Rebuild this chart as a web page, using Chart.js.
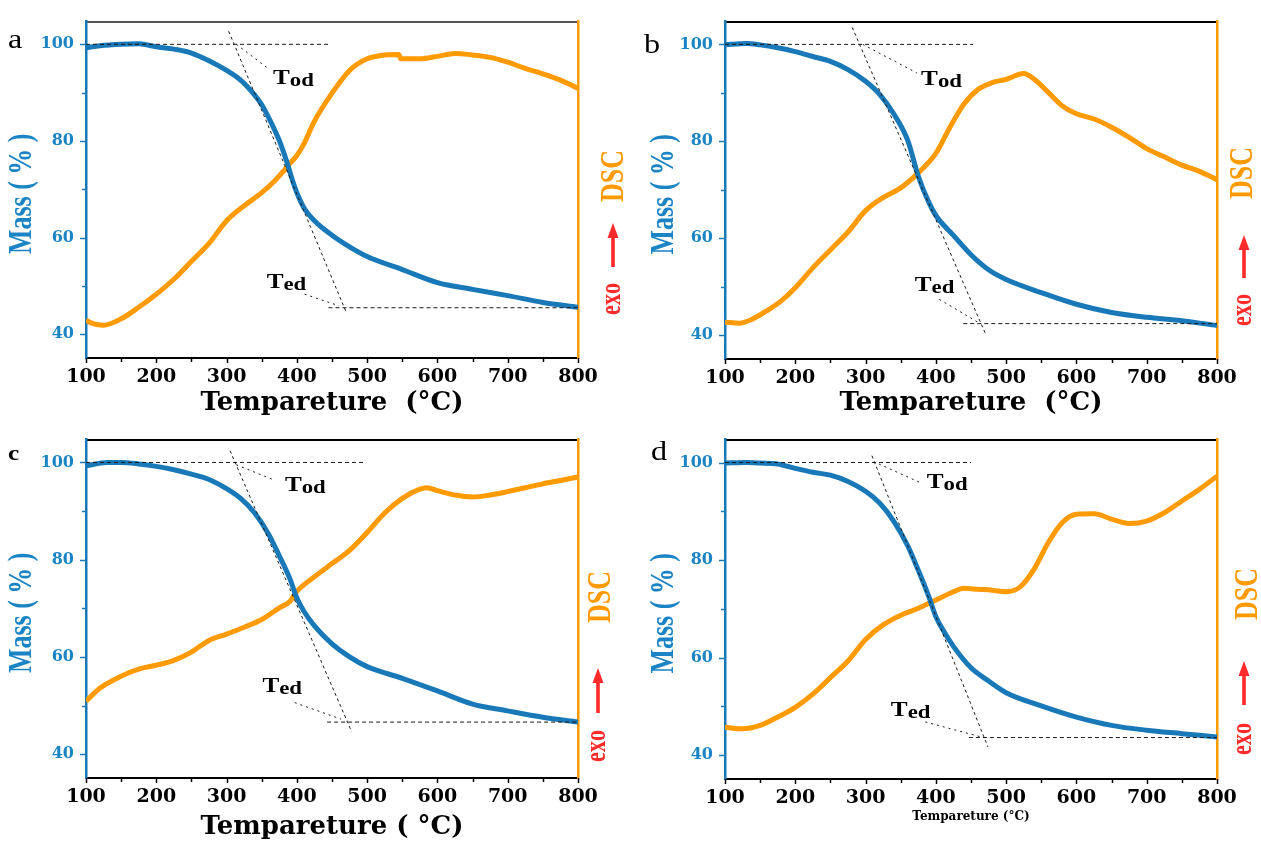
<!DOCTYPE html>
<html>
<head>
<meta charset="utf-8">
<script src="https://cdn.jsdelivr.net/npm/chart.js@4.4.0/dist/chart.umd.min.js"></script>
<style>
  body { margin: 0; background: #fff; }
  #wrap { position: relative; width: 1261px; height: 843px; background: #fff; }
  #wrap canvas { position: absolute; }
</style>
</head>
<body>
<div id="wrap">
  <canvas id="chartA" width="630" height="425" style="left:0;top:0"></canvas>
  <canvas id="chartB" width="622" height="425" style="left:639px;top:0"></canvas>
  <canvas id="chartC" width="630" height="425" style="left:0;top:418px"></canvas>
  <canvas id="chartD" width="622" height="425" style="left:639px;top:418px"></canvas>
</div>
<script>
// ---- data (temperature in °C, mass in %, DSC in arbitrary units on same visual scale) ----
const xTickValues = [100, 150, 200, 250, 300, 350, 400, 450, 500, 550, 600, 650, 700, 750, 800];
const xLabelValues = [100, 200, 300, 400, 500, 600, 700, 800];
const yTickValues = [40, 50, 60, 70, 80, 90, 100];
const yLabelValues = [40, 60, 80, 100];

// panel a
const massTempA = [100, 120, 150, 175, 200, 225, 250, 275, 300, 320, 340, 350, 360, 375, 385, 395, 400, 410, 425, 450, 475, 500, 550, 600, 650, 700, 750, 800];
const massA = [99.3, 99.7, 100, 100.1, 99.5, 99, 98.2, 96.6, 94.6, 92.6, 89.5, 87.5, 84.8, 80.1, 76, 71.3, 69.3, 66.2, 63.5, 60.5, 58.1, 56.1, 53.4, 50.7, 49.3, 48, 46.6, 45.6];
const dscTempA = [100, 110, 125, 150, 175, 200, 225, 250, 275, 300, 325, 350, 370, 390, 400, 410, 425, 450, 475, 500, 525, 545, 548, 575, 600, 625, 650, 675, 700, 725, 750, 775, 800];
const dscA = [42.9, 42.2, 41.9, 43.2, 45.6, 48.3, 51.4, 55.1, 58.8, 63.5, 66.6, 69.3, 72, 75.3, 77, 79.4, 84.1, 89.9, 94.6, 97, 97.8, 97.9, 97, 97, 97.5, 98.1, 97.8, 97.3, 96.3, 95, 93.9, 92.6, 90.9];

// panel b
const massTempB = [100, 130, 150, 175, 200, 225, 250, 275, 300, 320, 340, 360, 375, 390, 400, 425, 450, 475, 500, 550, 600, 650, 700, 750, 800];
const massB = [99.9, 100.2, 99.9, 99.3, 98.5, 97.5, 96.5, 94.8, 92.4, 89.7, 85.7, 80.2, 72.8, 67.4, 64.7, 60.6, 56.6, 53.5, 51.5, 48.8, 46.4, 44.7, 43.7, 43, 42];
const dscTempB = [100, 120, 140, 160, 180, 200, 225, 250, 275, 300, 325, 350, 375, 400, 420, 440, 460, 480, 500, 525, 540, 560, 580, 600, 625, 650, 675, 700, 725, 750, 775, 800];
const dscB = [42.7, 42.5, 43.4, 45.1, 47.1, 49.8, 53.9, 57.6, 61.3, 65.7, 68.4, 70.4, 73.5, 77.5, 82.9, 87.7, 90.7, 92.1, 92.8, 94, 92.8, 90.1, 87.3, 85.7, 84.6, 82.9, 80.8, 78.5, 76.8, 75.1, 73.8, 72.1];

// panel c
const massTempC = [100, 130, 150, 175, 200, 225, 250, 275, 300, 320, 340, 360, 375, 390, 400, 410, 425, 450, 475, 500, 550, 600, 650, 700, 750, 800];
const massC = [99.3, 100, 100, 99.7, 99.2, 98.5, 97.6, 96.5, 94.6, 92.6, 89.6, 85.2, 80.8, 76.1, 72.1, 69.4, 66.4, 62.7, 60, 58, 55.6, 53, 50.3, 48.9, 47.6, 46.6];
const dscTempC = [100, 120, 140, 160, 180, 200, 225, 250, 275, 300, 325, 350, 375, 390, 400, 425, 450, 475, 500, 525, 550, 575, 585, 600, 625, 650, 675, 700, 725, 750, 775, 800];
const dscC = [50.9, 53.6, 55.3, 56.7, 57.7, 58.3, 59.3, 61, 63.4, 64.7, 66.1, 67.7, 70.1, 71.4, 73.5, 76.5, 79.2, 81.9, 85.6, 89.6, 92.6, 94.5, 94.8, 94.2, 93.3, 92.9, 93.3, 94, 94.8, 95.6, 96.3, 97];

// panel d
const massTempD = [100, 130, 150, 175, 200, 225, 250, 275, 300, 320, 340, 360, 375, 390, 400, 410, 425, 450, 475, 500, 550, 600, 650, 700, 750, 800];
const massD = [99.9, 100, 99.9, 99.7, 98.8, 98, 97.4, 96.1, 94.1, 91.7, 88, 82.9, 77.9, 72.5, 68.4, 65.7, 62.3, 57.9, 55.2, 52.8, 50.1, 47.8, 46.1, 45.1, 44.4, 43.7];
const dscTempD = [100, 125, 150, 175, 200, 225, 250, 275, 300, 325, 350, 375, 400, 425, 440, 460, 480, 500, 520, 540, 560, 580, 600, 625, 650, 675, 700, 725, 750, 775, 800];
const dscD = [45.7, 45.4, 46.1, 47.8, 49.8, 52.5, 55.9, 59.3, 63.7, 66.7, 68.7, 70.1, 71.8, 73.5, 74.2, 74, 73.8, 73.5, 74.5, 78.2, 83.6, 87.7, 89.4, 89.5, 88.4, 87.5, 88, 89.7, 92.1, 94.5, 97.2];

// onset / endset construction lines [temp, mass]
const onsetA = [[100, 100], [445, 100]], tangentA = [[303, 102.7], [471, 44.3]], endsetA = [[445, 45.5], [800, 45.5]];
const todLeadA = [[314, 100], [360, 94.9]], tedLeadA = [[411, 48.3], [460, 45.9]];
const onsetB = [[100, 100], [453, 100]], tangentB = [[281, 103.5], [470, 40.5]], endsetB = [[439, 42.4], [800, 42.4]];
const todLeadB = [[296, 100], [373, 94.1]], tedLeadB = [[405, 47.4], [462, 42.5]];
const onsetC = [[100, 100], [497, 100]], tangentC = [[305, 102.4], [478, 44.6]], endsetC = [[443, 46.6], [800, 46.6]];
const todLeadC = [[314, 99.5], [369, 96.3]], tedLeadC = [[397, 50.6], [463, 47.2]];
const onsetD = [[100, 100], [450, 100]], tangentD = [[309, 101.4], [474, 41.7]], endsetD = [[447, 43.6], [800, 43.6]];
const todLeadD = [[319, 99.7], [379, 95.8]], tedLeadD = [[385, 46.8], [465, 43.7]];

// ---- style ----
const BLUE = '#1878b8';
const BLUE_TEXT = '#1b84c4';
const ORANGE = '#ff9a00';
const RED = '#ff2b2b';
const SERIF = '"DejaVu Serif", serif';
const TIMES = '"Liberation Serif", serif';

function toXY(xs, ys) {
    return xs.map((x, i) => ({ x: x, y: ys[i] }));
}
function pairs(arr) {
    return arr.map(p => ({ x: p[0], y: p[1] }));
}

// stretched text, like the original figure
function drawText(ctx, text, x, y, font, color, opts) {
    opts = opts || {};
    ctx.save();
    ctx.translate(x, y);
    ctx.scale(opts.sx || 1.2, 1);
    if (opts.rotate) ctx.rotate(opts.rotate);
    ctx.font = font;
    ctx.fillStyle = color;
    ctx.textAlign = opts.align || 'left';
    ctx.textBaseline = opts.baseline || 'alphabetic';
    ctx.fillText(text, 0, 0);
    ctx.restore();
}

function drawTLabel(ctx, x, y, sub) {
    ctx.save();
    ctx.translate(x, y);
    ctx.scale(1.2, 1);
    ctx.fillStyle = '#000';
    ctx.textBaseline = 'alphabetic';
    ctx.font = 'bold 21px ' + TIMES;
    ctx.fillText('T', 0, 0);
    const w = ctx.measureText('T').width;
    ctx.font = 'bold 19px ' + TIMES;
    ctx.fillText(sub, w, 2);
    ctx.restore();
}

const decorPlugin = {
    id: 'decor',
    afterDraw(chart) {
        const p = chart.config.options.plugins.decor;
        const ctx = chart.ctx;
        const xs = chart.scales.x, ys = chart.scales.y;
        const area = chart.chartArea;
        ctx.save();
        // tick marks (outward)
        ctx.lineWidth = 1.5;
        ctx.strokeStyle = '#000';
        xTickValues.forEach(v => {
            const px = Math.round(xs.getPixelForValue(v)) + 0.5;
            const len = v % 100 === 0 ? 5 : 4;
            ctx.beginPath();
            ctx.moveTo(px, area.bottom);
            ctx.lineTo(px, area.bottom + len);
            ctx.stroke();
        });
        ctx.strokeStyle = BLUE;
        yTickValues.forEach(v => {
            const py = Math.round(ys.getPixelForValue(v)) + 0.5;
            const len = v % 20 === 0 ? 6 : 4;
            ctx.beginPath();
            ctx.moveTo(area.left, py);
            ctx.lineTo(area.left - len, py);
            ctx.stroke();
        });
        ctx.restore();

        // y axis title
        drawText(ctx, 'Mass ( % )', p.yTitleX, (area.top + area.bottom) / 2 + 4, 'bold 26px ' + TIMES, BLUE_TEXT,
            { sx: 1.3, rotate: -Math.PI / 2, align: 'center', baseline: 'middle' });

        // panel letter
        drawText(ctx, p.letter, p.letterPos[0], p.letterPos[1], p.letterFont, '#000', { sx: 1.15 });

        // Tod / Ted labels
        drawTLabel(ctx, xs.getPixelForValue(p.todAt[0]), ys.getPixelForValue(p.todAt[1]) + 2, 'od');
        drawTLabel(ctx, xs.getPixelForValue(p.tedAt[0]), ys.getPixelForValue(p.tedAt[1]) + 2, 'ed');

        // DSC, exo arrow
        drawText(ctx, 'DSC', p.dscPos[0], p.dscPos[1], 'bold 26px ' + TIMES, ORANGE,
            { sx: 1.3, rotate: -Math.PI / 2, align: 'center', baseline: 'middle' });
        const ax = p.arrow[0], top = p.arrow[1], bot = p.arrow[2];
        ctx.save();
        ctx.fillStyle = RED;
        ctx.fillRect(ax - 1.8, top + 12, 3.6, bot - top - 12);
        ctx.beginPath();
        ctx.moveTo(ax, top);
        ctx.lineTo(ax - 5.5, top + 15);
        ctx.lineTo(ax + 5.5, top + 15);
        ctx.closePath();
        ctx.fill();
        ctx.restore();
        drawText(ctx, 'exo', p.exoPos[0], p.exoPos[1], 'bold 22px ' + TIMES, RED,
            { sx: 1.3, rotate: -Math.PI / 2, align: 'center', baseline: 'middle' });
    }
};

function makePanel(id, d) {
    const canvas = document.getElementById(id);
    const W = canvas.width, H = canvas.height;
    const plotLeft = 86, plotRight = 578, plotTop = 15, plotBottom = d.bottom;
    const dashLine = (pts, dash) => ({
        data: pairs(pts), borderColor: '#1a1a1a', borderWidth: 1, borderDash: dash,
        pointRadius: 0, fill: false, tension: 0, xAxisID: 'x', yAxisID: 'y'
    });
    return new Chart(canvas.getContext('2d'), {
        type: 'line',
        data: {
            datasets: [
                dashLine(d.onset, [4, 3]),
                dashLine(d.tangent, [3, 3]),
                dashLine(d.endset, [4, 3]),
                dashLine(d.todLead, [2, 4]),
                dashLine(d.tedLead, [2, 4]),
                {
                    label: 'Mass', data: toXY(d.massT, d.mass), borderColor: BLUE, borderWidth: 5,
                    pointRadius: 0, cubicInterpolationMode: 'monotone', xAxisID: 'x', yAxisID: 'y'
                },
                {
                    label: 'DSC', data: toXY(d.dscT, d.dsc), borderColor: ORANGE, borderWidth: 5,
                    pointRadius: 0, cubicInterpolationMode: 'monotone', xAxisID: 'x', yAxisID: 'y2'
                }
            ]
        },
        options: {
            responsive: false,
            animation: false,
            events: [],
            layout: { padding: { top: plotTop, left: 0, right: 0, bottom: 0 } },
            plugins: {
                legend: { display: false },
                tooltip: { enabled: false },
                decor: d
            },
            scales: {
                x: {
                    type: 'linear', position: 'bottom', min: 100, max: 800,
                    grid: { display: false, drawTicks: false },
                    border: { display: true, color: '#000', width: 2 },
                    afterBuildTicks: s => { s.ticks = xLabelValues.map(v => ({ value: v })); },
                    afterFit: s => { s.height = H - plotBottom; },
                    ticks: {
                        autoSkip: false, maxRotation: 0, padding: 8, color: '#000',
                        font: { family: SERIF, size: 19, weight: 'bold' }
                    },
                    title: {
                        display: true, text: d.xTitle, color: '#000',
                        font: { family: SERIF, size: d.xTitleSize, weight: 'bold' },
                        padding: { top: 0, bottom: d.xTitlePad }
                    }
                },
                xTop: {
                    type: 'linear', axis: 'x', position: 'top', min: 100, max: 800,
                    grid: { display: false, drawTicks: false },
                    border: { display: true, color: d.topColor, width: 2 },
                    ticks: { display: false },
                    afterFit: s => { s.height = 0; }
                },
                y: {
                    type: 'linear', position: 'left', min: 35.1, max: 104.7,
                    grid: { display: false, drawTicks: false },
                    border: { display: true, color: BLUE, width: 2.5 },
                    afterBuildTicks: s => { s.ticks = yLabelValues.map(v => ({ value: v })); },
                    afterFit: s => { s.width = plotLeft; },
                    ticks: {
                        padding: 12, color: BLUE_TEXT,
                        font: { family: SERIF, size: 16, weight: 'bold' }
                    }
                },
                y2: {
                    type: 'linear', position: 'right', min: 35.1, max: 104.7,
                    grid: { display: false, drawTicks: false },
                    border: { display: true, color: ORANGE, width: 2.5 },
                    ticks: { display: false },
                    afterFit: s => { s.width = W - plotRight; }
                }
            }
        },
        plugins: [decorPlugin]
    });
}

makePanel('chartA', {
    massT: massTempA, mass: massA, dscT: dscTempA, dsc: dscA,
    onset: onsetA, tangent: tangentA, endset: endsetA, todLead: todLeadA, tedLead: tedLeadA,
    todAt: [366, 92.2], tedAt: [357, 50],
    bottom: 358, topColor: '#555',
    xTitle: 'Tempareture  (°C)', xTitleSize: 26, xTitlePad: 6,
    yTitleX: 22,
    letter: 'a', letterPos: [8, 48], letterFont: '28px ' + TIMES,
    dscPos: [614, 176], arrow: [613, 223, 267], exoPos: [613, 299]
});
makePanel('chartB', {
    massT: massTempB, mass: massB, dscT: dscTempB, dsc: dscB,
    onset: onsetB, tangent: tangentB, endset: endsetB, todLead: todLeadB, tedLead: tedLeadB,
    todAt: [379, 92.1], tedAt: [370, 49.5],
    bottom: 359, topColor: '#000',
    xTitle: 'Tempareture  (°C)', xTitleSize: 26, xTitlePad: 6,
    yTitleX: 25,
    letter: 'b', letterPos: [5, 53], letterFont: '28px ' + TIMES,
    dscPos: [604, 173], arrow: [605, 235, 278], exoPos: [605, 310]
});
makePanel('chartC', {
    massT: massTempC, mass: massC, dscT: dscTempC, dsc: dscC,
    onset: onsetC, tangent: tangentC, endset: endsetC, todLead: todLeadC, tedLead: tedLeadC,
    todAt: [383, 94.6], tedAt: [351, 53.3],
    bottom: 360, topColor: '#000',
    xTitle: 'Tempareture ( °C)', xTitleSize: 26, xTitlePad: 0,
    yTitleX: 22,
    letter: 'c', letterPos: [8, 42], letterFont: 'bold 22px ' + TIMES,
    dscPos: [601, 179], arrow: [598, 250, 295], exoPos: [598, 328]
});
makePanel('chartD', {
    massT: massTempD, mass: massD, dscT: dscTempD, dsc: dscD,
    onset: onsetD, tangent: tangentD, endset: endsetD, todLead: todLeadD, tedLead: tedLeadD,
    todAt: [387, 95.1], tedAt: [336, 48.4],
    bottom: 361, topColor: '#000',
    xTitle: 'Tempareture (°C)', xTitleSize: 12, xTitlePad: 19,
    yTitleX: 25,
    letter: 'd', letterPos: [12, 42], letterFont: '28px ' + TIMES,
    dscPos: [609, 176], arrow: [605, 243, 287], exoPos: [605, 321]
});
</script>
</body>
</html>
